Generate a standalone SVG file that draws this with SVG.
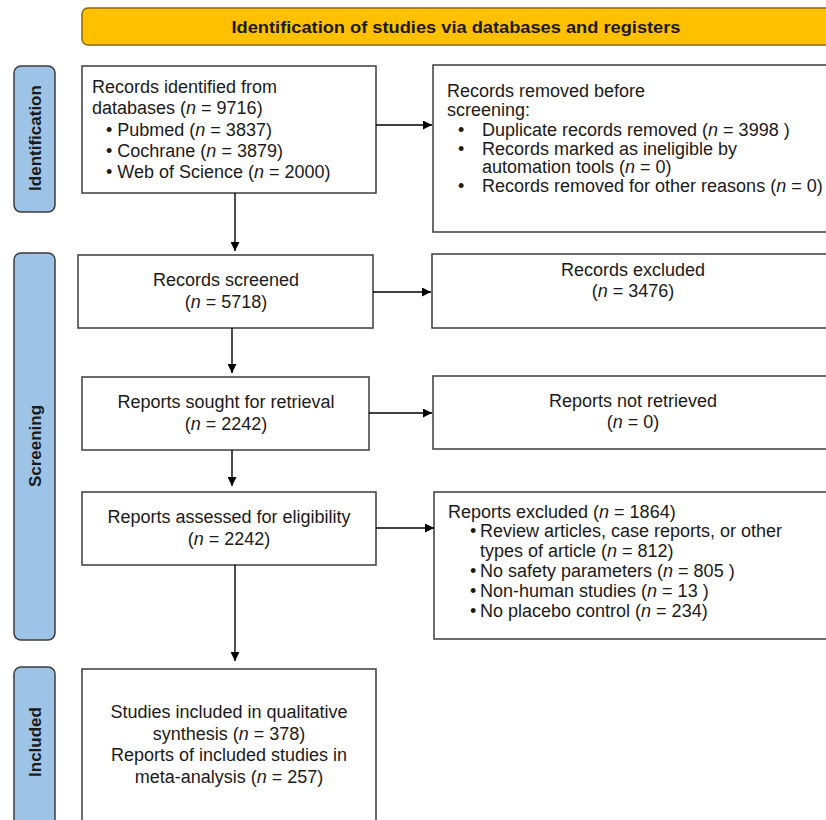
<svg xmlns="http://www.w3.org/2000/svg" width="826" height="820" viewBox="0 0 826 820">
<style>
.box{fill:#fff;stroke:#3c3c3c;stroke-width:1.5}
.side{fill:#9DC3E6;stroke:#3c3c3c;stroke-width:1.5}
.t{font-family:"Liberation Sans",Arial,sans-serif;font-size:18px;fill:#1a1a1a}
.c{text-anchor:middle}
.sl{font-family:"Liberation Sans",Arial,sans-serif;font-size:17px;font-weight:bold;fill:#1a1a1a;text-anchor:middle}
.i{font-style:italic}
.conn{stroke:#000;stroke-width:1.4;fill:none}
</style>
<defs>
<marker id="ah" viewBox="0 0 10 10" refX="10" refY="5" markerWidth="9" markerHeight="9" markerUnits="userSpaceOnUse" orient="auto">
<path d="M0,0 L10,5 L0,10 z" fill="#000"/>
</marker>
</defs>
<rect width="826" height="820" fill="#fff"/>

<g id="title">
<rect x="82" y="8" width="790" height="37" rx="6" fill="#FFC000" stroke="#8a6a00" stroke-width="1.5"/>
<text x="456" y="33" class="sl" font-size="17" textLength="449" lengthAdjust="spacingAndGlyphs">Identification of studies via databases and registers</text>
</g>

<g id="side-identification">
<rect x="14" y="66" width="41" height="146" rx="7" class="side"/>
<text class="sl" transform="translate(41,138) rotate(-90)">Identification</text>
</g>
<g id="side-screening">
<rect x="14" y="253" width="41" height="387" rx="7" class="side"/>
<text class="sl" transform="translate(41,446) rotate(-90)">Screening</text>
</g>
<g id="side-included">
<rect x="14" y="667" width="41" height="170" rx="7" class="side"/>
<text class="sl" transform="translate(41,742) rotate(-90)">Included</text>
</g>

<g id="records-identified">
<rect x="82" y="66" width="294" height="127" class="box"/>
<text class="t" x="92" y="93">Records identified from</text>
<text class="t" x="92" y="114">databases (<tspan class="i">n</tspan> = 9716)</text>
<text class="t" x="106" y="136">• Pubmed (<tspan class="i">n</tspan> = 3837)</text>
<text class="t" x="106" y="157">• Cochrane (<tspan class="i">n</tspan> = 3879)</text>
<text class="t" x="106" y="178">• Web of Science (<tspan class="i">n</tspan> = 2000)</text>
</g>

<g id="records-removed">
<rect x="433" y="65" width="400" height="167" class="box"/>
<text class="t" x="447" y="97">Records removed before</text>
<text class="t" x="447" y="116">screening:</text>
<text class="t" x="458" y="136">•</text>
<text class="t" x="482" y="136">Duplicate records removed  (<tspan class="i">n</tspan> = 3998 )</text>
<text class="t" x="458" y="155">•</text>
<text class="t" x="482" y="155">Records marked as ineligible by</text>
<text class="t" x="482" y="173">automation tools (<tspan class="i">n</tspan> = 0)</text>
<text class="t" x="458" y="192">•</text>
<text class="t" x="482" y="192">Records removed for other reasons (<tspan class="i">n</tspan> = 0)</text>
</g>

<g id="records-screened">
<rect x="78" y="255" width="295" height="73" class="box"/>
<text class="t c" x="226" y="286">Records screened</text>
<text class="t c" x="226" y="308">(<tspan class="i">n</tspan> = 5718)</text>
</g>

<g id="records-excluded">
<rect x="432" y="254" width="400" height="74" class="box"/>
<text class="t c" x="633" y="276">Records excluded</text>
<text class="t c" x="633" y="297">(<tspan class="i">n</tspan> = 3476)</text>
</g>

<g id="reports-sought">
<rect x="82" y="377" width="287" height="73" class="box"/>
<text class="t c" x="226" y="408">Reports sought for retrieval</text>
<text class="t c" x="226" y="430">(<tspan class="i">n</tspan> = 2242)</text>
</g>

<g id="reports-not-retrieved">
<rect x="433" y="376" width="400" height="73" class="box"/>
<text class="t c" x="633" y="407">Reports not retrieved</text>
<text class="t c" x="633" y="428">(<tspan class="i">n</tspan> = 0)</text>
</g>

<g id="reports-assessed">
<rect x="82" y="492" width="294" height="73" class="box"/>
<text class="t c" x="229" y="523">Reports assessed for eligibility</text>
<text class="t c" x="229" y="545">(<tspan class="i">n</tspan> = 2242)</text>
</g>

<g id="reports-excluded">
<rect x="434" y="492" width="400" height="147" class="box"/>
<text class="t" x="448" y="518">Reports excluded (<tspan class="i">n</tspan> = 1864)</text>
<text class="t" x="470" y="537">•</text>
<text class="t" x="480" y="537">Review articles, case reports, or other</text>
<text class="t" x="480" y="557">types of article (<tspan class="i">n</tspan> = 812)</text>
<text class="t" x="470" y="577">•</text>
<text class="t" x="480" y="577">No safety parameters (<tspan class="i">n</tspan> = 805 )</text>
<text class="t" x="470" y="597">•</text>
<text class="t" x="480" y="597">Non-human studies (<tspan class="i">n</tspan> = 13 )</text>
<text class="t" x="470" y="617">•</text>
<text class="t" x="480" y="617">No placebo control (<tspan class="i">n</tspan> = 234)</text>
</g>

<g id="studies-included">
<rect x="82" y="669" width="294" height="170" class="box"/>
<text class="t c" x="229" y="718">Studies included in qualitative</text>
<text class="t c" x="229" y="740">synthesis (<tspan class="i">n</tspan> = 378)</text>
<text class="t c" x="229" y="761">Reports of included studies in</text>
<text class="t c" x="229" y="783">meta-analysis (<tspan class="i">n</tspan> = 257)</text>
</g>

<g id="connectors">
<line class="conn" x1="235" y1="193" x2="235" y2="251" marker-end="url(#ah)"/>
<line class="conn" x1="376" y1="125" x2="432" y2="125" marker-end="url(#ah)"/>
<line class="conn" x1="373" y1="292" x2="431" y2="292" marker-end="url(#ah)"/>
<line class="conn" x1="232" y1="328" x2="232" y2="373" marker-end="url(#ah)"/>
<line class="conn" x1="369" y1="413" x2="432" y2="413" marker-end="url(#ah)"/>
<line class="conn" x1="232" y1="450" x2="232" y2="486" marker-end="url(#ah)"/>
<line class="conn" x1="376" y1="528" x2="434" y2="528" marker-end="url(#ah)"/>
<line class="conn" x1="235" y1="565" x2="235" y2="661" marker-end="url(#ah)"/>
</g>
</svg>
